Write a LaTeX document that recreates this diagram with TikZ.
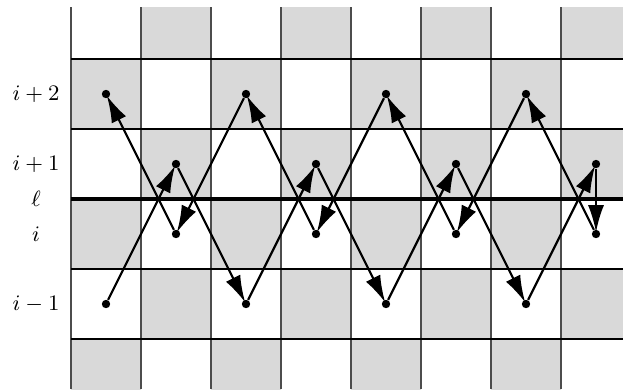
\documentclass[tikz,border=0pt]{standalone}
\usepackage{amsmath,amssymb}
\usetikzlibrary{arrows.meta,positioning,calc}
\tikzset{
  pt/.style={circle, fill=black, inner sep=0pt, minimum size=3.4pt},
  hop/.style={-{Latex[length=11pt,width=6.5pt]}, line width=0.9pt, shorten >=-1.2pt},
  rowlab/.style={font=\fontsize{9.3}{11}\selectfont}
}
\begin{document}
\begin{tikzpicture}
\useasboundingbox (-1.0143,-2.7143) rectangle (7.8857,2.8429);
\begin{scope}
  \clip (0,-2.7143) rectangle (7.8857,2.7429);
  \foreach \c in {0,...,7}
    \foreach \r in {-3,...,2}{
      \pgfmathtruncatemacro\k{\c+\r+10}
      \ifodd\k \fill[gray!30] (\c,\r) rectangle ++(1,1); \fi
    }
\end{scope}
\foreach \c in {0,...,7} \draw[black!70, line width=0.6pt] (\c,-2.7143) -- (\c,2.7429);
\foreach \r in {-2,-1,1,2} \draw[line width=0.5pt] (0,\r) -- (7.8857,\r);
\draw[line width=1.3pt] (0,0) -- (7.8857,0);

\node[rowlab] (l2) at (-0.5,1.5) {$i+2$};
\node[rowlab] (l1) at (-0.5,0.5) {$i+1$};
\node[rowlab] (ell) at (-0.5,0) {$\ell$};
\node[rowlab] (l0) at (-0.5,-0.5) {$i$};
\node[rowlab] (lm) at (-0.5,-1.5) {$i-1$};

\node[pt] (a0) at (0.5,-1.5) {};
\node[pt] (a1) at (1.5,0.5) {};
\node[pt] (a2) at (2.5,-1.5) {};
\node[pt] (a3) at (3.5,0.5) {};
\node[pt] (a4) at (4.5,-1.5) {};
\node[pt] (a5) at (5.5,0.5) {};
\node[pt] (a6) at (6.5,-1.5) {};
\node[pt] (a7) at (7.5,0.5) {};
\node[pt] (b0) at (0.5,1.5) {};
\node[pt] (b1) at (1.5,-0.5) {};
\node[pt] (b2) at (2.5,1.5) {};
\node[pt] (b3) at (3.5,-0.5) {};
\node[pt] (b4) at (4.5,1.5) {};
\node[pt] (b5) at (5.5,-0.5) {};
\node[pt] (b6) at (6.5,1.5) {};
\node[pt] (b7) at (7.5,-0.5) {};

\foreach \s/\t in {a0/a1,a1/a2,a2/a3,a3/a4,a4/a5,a5/a6,a6/a7,a7/b7,
                   b7/b6,b6/b5,b5/b4,b4/b3,b3/b2,b2/b1,b1/b0}
  \draw[hop] (\s) -- (\t);
\end{tikzpicture}
\end{document}
